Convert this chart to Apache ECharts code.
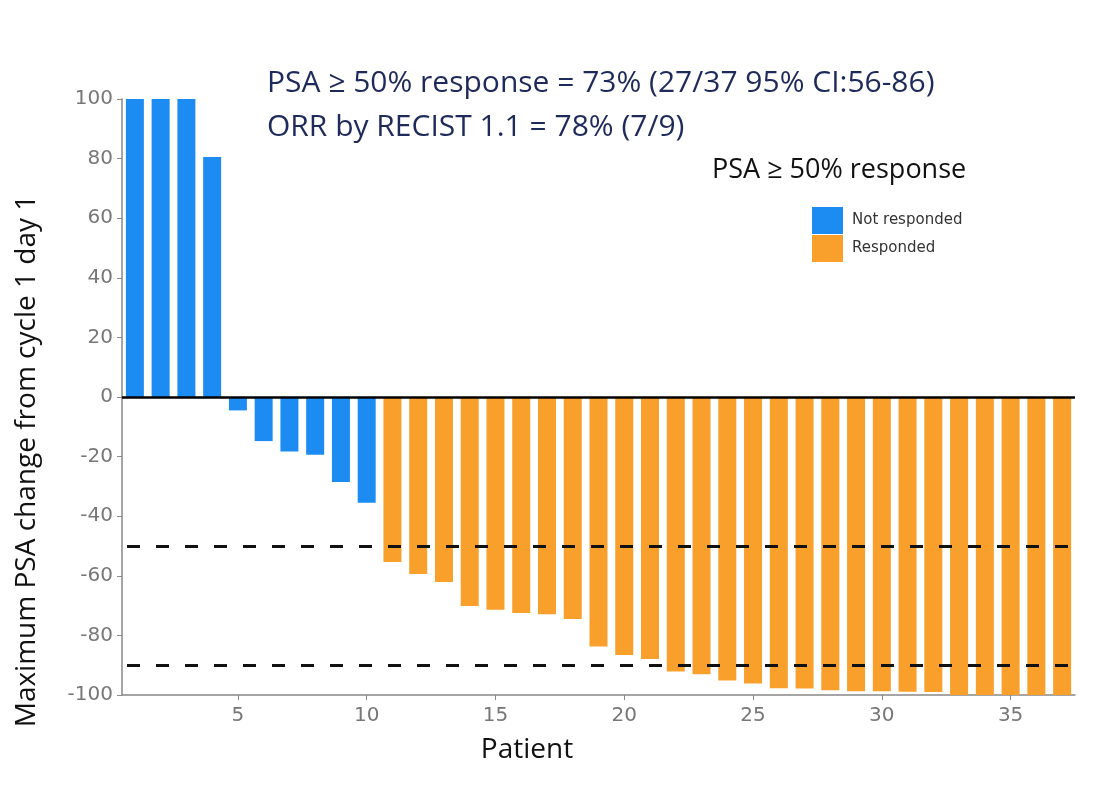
<!DOCTYPE html>
<html>
<head>
<meta charset="utf-8">
<script src="https://cdn.jsdelivr.net/npm/echarts@6/dist/echarts.min.js"></script>
<style>
html,body{margin:0;padding:0;background:#fff;}
#chart{width:1116px;height:786px;}
</style>
</head>
<body>
<div id="chart"></div>
<script>
// ---- data ----
const patients = Array.from({length: 37}, (_, i) => String(i + 1));
const psaChange = [100, 100, 100, 80.5, -4.5, -14.8, -18.3, -19.4, -28.5, -35.5,
  -55.4, -59.4, -62.1, -70.1, -71.4, -72.5, -72.9, -74.5, -83.7, -86.6,
  -87.9, -92.1, -93.0, -95.1, -96.1, -97.7, -97.8, -98.4, -98.7, -98.7,
  -98.9, -99.0, -100, -100, -100, -100, -100];
const responded = [0,0,0,0,0,0,0,0,0,0,
  1,1,1,1,1,1,1,1,1,1,1,1,1,1,1,1,1,1,1,1,1,1,1,1,1,1,1];
const groupNames = ['Not responded', 'Responded'];
const groupColors = ['#1c8cf2', '#f99f2c'];
const thresholds = [-50, -90];
const yTicks = {min: -100, max: 100, interval: 20};
const annotationLines = ['PSA \u2265 50% response = 73% (27/37 95% CI:56-86)', 'ORR by RECIST 1.1 = 78% (7/9)'];
const legendTitle = 'PSA \u2265 50% response';
const xTitle = 'Patient';
const yTitle = 'Maximum PSA change from cycle 1 day 1';

const chart = echarts.init(document.getElementById('chart'));
const seriesData = groupNames.map((_, g) => psaChange.map((v, i) => responded[i] === g ? v : '-'));

const titleFont = '"Open Sans", Lato, sans-serif';
const tickFont = '"DejaVu Sans", sans-serif';
const option = {
  backgroundColor: '#fff',
  animation: false,
  title: [
    {text: annotationLines[0], left: 262, top: 63, textStyle: {fontFamily: titleFont, fontSize: 30, fontWeight: 'normal', color: '#1e2a5a'}},
    {text: annotationLines[1], left: 262, top: 107, textStyle: {fontFamily: titleFont, fontSize: 30, fontWeight: 'normal', color: '#1e2a5a'}},
    {text: legendTitle, left: 707, top: 152, textStyle: {fontFamily: titleFont, fontSize: 27, fontWeight: 'normal', color: '#111'}}
  ],
  graphic: [
    {type: 'text', silent: true, x: 527, y: 750,
     style: {text: xTitle, align: 'center', verticalAlign: 'middle', font: '28px "Open Sans", Lato, sans-serif', fill: '#111'}},
    {type: 'text', silent: true, x: 27, y: 461, rotation: Math.PI / 2,
     style: {text: yTitle, align: 'center', verticalAlign: 'middle', font: '28px "Open Sans", Lato, sans-serif', fill: '#111'}}
  ],
  legend: {
    orient: 'vertical', left: 807, top: 202, itemWidth: 31, itemHeight: 27, itemGap: 1,
    icon: 'rect',
    data: groupNames,
    textStyle: {fontFamily: tickFont, fontSize: 15, color: '#333', padding: [0,0,0,4]}
  },
  grid: {left: 122, right: 41, top: 99, bottom: 91, containLabel: false},
  xAxis: {
    type: 'category', data: patients, boundaryGap: true,
    axisLine: {show: true, onZero: false, lineStyle: {color: '#888', width: 1.5}},
    axisTick: {show: true, alignWithLabel: true, length: 5, lineStyle: {color: '#888'},
      interval: (i) => (i + 1) % 5 === 0},
    axisLabel: {interval: (i) => (i + 1) % 5 === 0, margin: 11,
      fontFamily: tickFont, fontSize: 20, color: '#777'},
    splitLine: {show: false}
  },
  yAxis: {
    type: 'value', min: yTicks.min, max: yTicks.max, interval: yTicks.interval,
    axisLine: {show: true, lineStyle: {color: '#888', width: 1.5}},
    axisTick: {show: true, length: 5, lineStyle: {color: '#888'}},
    axisLabel: {margin: 9, fontFamily: tickFont, fontSize: 20, color: '#777'},
    splitLine: {show: false}
  },
  series: groupNames.map((name, g) => ({
    name: name, type: 'bar', data: seriesData[g], barWidth: 18, barGap: '-100%',
    itemStyle: {color: groupColors[g]},
    markLine: g === 0 ? {
      silent: true, symbol: 'none', label: {show: false}, z: 10,
      data: [
        {yAxis: 0, lineStyle: {color: '#000', width: 2.5, type: 'solid'}},
        ...thresholds.map(t => ({yAxis: t, lineStyle: {color: '#111', width: 3, type: [13, 16], dashOffset: -5}}))
      ]
    } : undefined
  }))
};
chart.setOption(option);
</script>
</body>
</html>
